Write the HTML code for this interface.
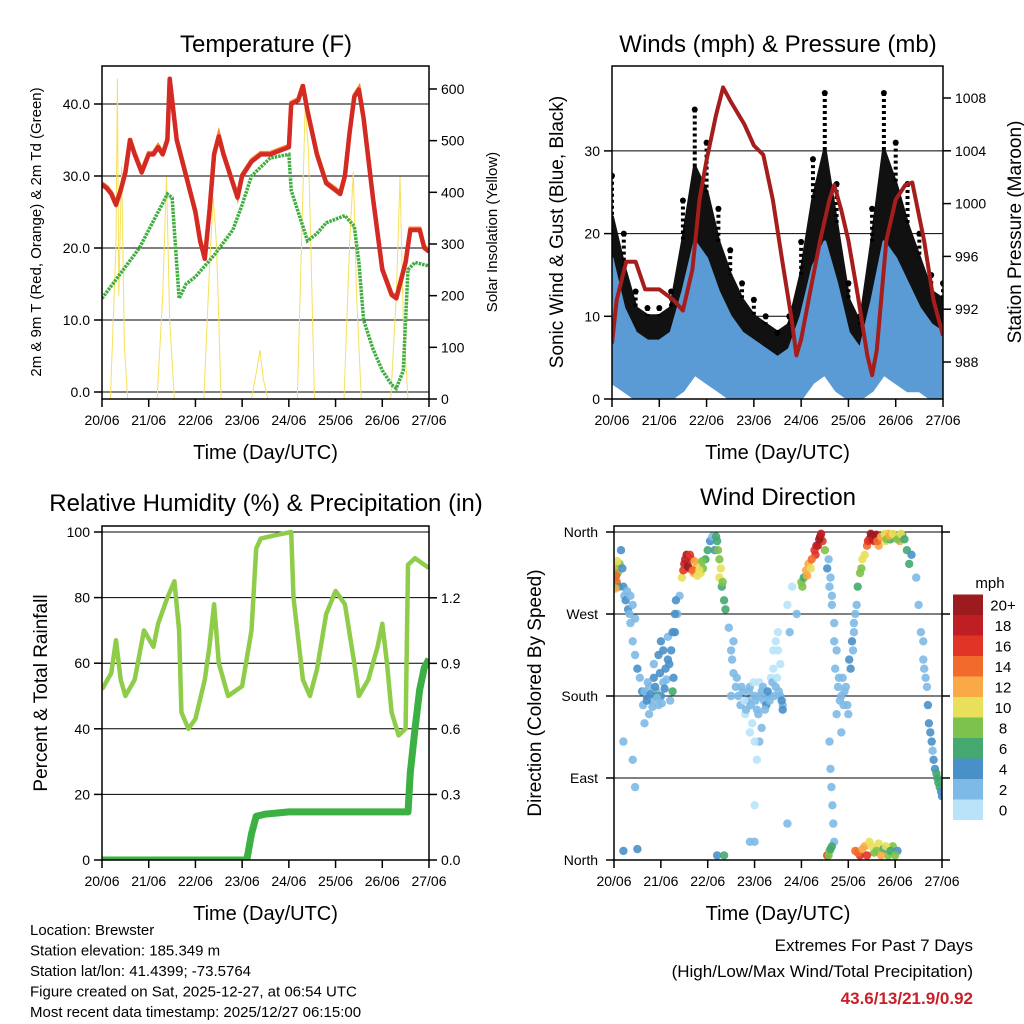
<!DOCTYPE html>
<html><head><meta charset="utf-8"><style>
html,body{margin:0;padding:0;background:#fff;}
svg{display:block;font-family:"Liberation Sans",sans-serif;}
</style></head><body>
<svg id="c" width="1024" height="1024" viewBox="0 0 1024 1024" xmlns="http://www.w3.org/2000/svg"></svg>
<script>
// ---- Temperature panel data ----
const tempDays=[0,0.1,0.2,0.3,0.4,0.5,0.6,0.7,0.85,1.0,1.1,1.2,1.3,1.4,1.45,1.6,1.8,2.0,2.1,2.2,2.3,2.4,2.5,2.6,2.8,2.9,3.0,3.2,3.4,3.6,3.8,4.0,4.05,4.2,4.3,4.4,4.6,4.8,5.0,5.1,5.2,5.3,5.4,5.5,5.6,5.8,6.0,6.2,6.3,6.5,6.6,6.8,6.9,7.0];
const tempF=[28.8,28.3,27.5,26,28,30.5,35,33,30.5,33,33,34,33,35,43.5,35,30,25,21,18.5,25,33,35.5,33,29,27,30,32,33,33,33.5,34,40,40.5,42.5,39,33,29,28,27.5,30,36,41,42,38,27,17,13.5,13,18,22.5,22.5,20,19.5];
const dewDays=[0,0.4,0.8,1.0,1.2,1.4,1.5,1.65,1.8,2.0,2.4,2.8,3.0,3.2,3.6,4.0,4.05,4.2,4.4,4.6,4.8,5.0,5.2,5.4,5.5,5.6,5.8,6.0,6.2,6.3,6.45,6.5,6.55,6.7,7.0];
const dewF=[13,16.5,20,22.5,25,27.5,27,13,15,16,19,22.5,26,30,32.5,33,28,25,21,22,23.5,24,24.5,23,18,10,6,3,1,0.5,3,10,17,18,17.5];
const solarDays=[0,0.18,0.3,0.33,0.36,0.42,0.48,0.55,1.18,1.3,1.38,1.45,1.55,2.18,2.3,2.38,2.45,2.55,3.2,3.32,3.38,3.45,3.55,4.18,4.3,4.35,4.42,4.55,5.18,5.3,5.38,5.45,5.55,6.18,6.3,6.38,6.45,6.55,7.0];
const solarW=[0,0,300,620,200,450,100,0,0,200,430,150,0,0,250,390,300,0,0,60,95,40,0,0,400,570,480,0,0,300,440,200,0,0,200,430,150,0,0];
const tempTicks=[0,10,20,30,40];
const solarTicks=[0,100,200,300,400,500,600];
const dayLabels=["20/06","21/06","22/06","23/06","24/06","25/06","26/06","27/06"];
// ---- Winds panel data ----
const pressDays=[0,0.1,0.3,0.5,0.7,1.0,1.3,1.5,1.7,1.85,2.0,2.2,2.35,2.5,2.8,3.0,3.2,3.4,3.6,3.8,3.9,4.0,4.2,4.4,4.6,4.7,4.85,5.0,5.2,5.4,5.5,5.6,5.8,6.0,6.2,6.35,6.6,6.8,7.0];
const pressMb=[989.4,992.7,995.6,995.6,993.5,993.5,992.7,991.9,995,1000.3,1003.3,1006.7,1008.8,1007.8,1006,1004.4,1003.7,1000.3,995.7,991.2,988.5,989.7,993.5,997.2,1000.3,1001.4,999.5,997.2,993,988.5,987,988.9,997.2,1000.3,1001.4,1001.6,997.2,992.7,990];
const windDays=[0,0.25,0.5,0.75,1,1.25,1.5,1.75,2,2.25,2.5,2.75,3,3.25,3.5,3.75,4,4.25,4.5,4.75,5,5.25,5.5,5.75,6,6.25,6.5,6.75,7];
const gustMax=[27,20,13,11,11,13,24,35,31,23,18,14,12,10,8,10,19,29,37,26,14,10,23,37,31,26,20,15,14];
const gustHi=[22,16,11,10,10,11,19,28,25,19,15,12,10,9,8,9,15,24,30,21,12,9,19,30,26,21,17,13,12];
const windHi=[17,11,8,7,7,8,13,19,17,13,10,8,7,6,5,6,10,16,19,14,8,6,12,19,17,14,11,9,8];
const windLo=[2,1,0,0,0,0,1,3,2,1,0,0,0,0,0,0,0,2,3,1,0,0,1,3,2,1,1,0,0];
const windTicks=[0,10,20,30];
const pressTicks=[988,992,996,1000,1004,1008];
// ---- RH / precip data ----
const rhDays=[0,0.2,0.3,0.4,0.5,0.7,0.9,1.1,1.2,1.4,1.55,1.65,1.7,1.85,2.0,2.2,2.3,2.4,2.5,2.7,3.0,3.2,3.3,3.4,3.7,4.05,4.1,4.3,4.45,4.6,4.8,5.0,5.2,5.4,5.5,5.7,5.9,6.0,6.1,6.2,6.35,6.5,6.55,6.7,7.0];
const rhPct=[52,57,67,55,50,55,70,65,72,80,85,70,45,40,43,55,65,78,60,50,53,70,95,98,99,100,80,55,50,58,75,82,78,60,50,55,65,72,60,45,38,40,90,92,89];
const rainDays=[0,3.1,3.2,3.3,3.5,4.0,6.55,6.6,6.7,6.8,6.9,7.0];
const rainIn=[0,0,0.12,0.2,0.21,0.22,0.22,0.4,0.6,0.78,0.88,0.92];
const rhTicks=[0,20,40,60,80,100];
const rainTicks=[0,0.3,0.6,0.9,1.2];
// ---- Wind direction data ----
const dirDay=[0,0.02,0.04,0.06,0.08,0.1,0.12,0.15,0.18,0.2,0.22,0.25,0.28,0.3,0.33,0.35,0.4,0.45,0.5,0.55,0.6,0.62,0.65,0.4,0.45,0.5,0.2,0.7,0.75,0.8,0.85,0.9,0.95,1.0,1.05,1.1,1.15,1.2,1.25,0.9,1.0,1.3,1.35,1.4,1.45,1.5,1.55,1.6,1.65,1.7,1.75,1.8,1.85,1.9,1.95,2.0,2.05,2.1,2.15,2.2,2.25,2.25,2.3,2.35,2.38,2.45,2.5,2.55,2.5,2.6,2.7,2.75,2.8,2.85,2.9,2.95,3.0,3.05,3.1,3.15,3.2,3.25,3.3,3.35,3.4,3.45,3.5,3.55,3.6,3.1,3.05,2.9,3.0,3.7,3.75,3.8,3.9,3.7,4.0,4.05,4.1,4.15,4.2,4.3,4.35,4.4,4.45,4.5,4.55,4.6,4.65,4.7,4.75,4.8,4.85,4.9,4.95,5.0,4.85,4.6,4.62,4.64,4.66,4.68,4.7,4.55,4.6,4.65,5.05,5.1,5.12,5.15,5.2,5.25,5.3,5.4,5.45,5.5,5.55,5.6,5.65,5.75,5.8,5.85,5.9,6.0,6.1,6.15,6.25,6.3,6.35,6.45,6.5,6.55,6.6,6.65,6.75,6.8,6.85,6.9,6.95,7.0,5.15,5.25,5.35,5.45,5.55,5.65,5.75,5.85,5.95,6.05,0.2,2.2,2.35,3.0,
0.65,0.7,0.72,0.78,0.82,0.88,0.92,0.98,1.02,1.08,1.12,1.18,1.22,1.27,0.85,0.95,1.05,1.15,1.25,0.75,1.3,1.32,0.35,0.4,0.45,
2.65,2.72,2.78,2.82,2.88,2.92,2.98,3.02,3.08,3.12,3.18,3.22,3.28,3.32,3.38,3.42,3.48,3.52,3.58,3.6,2.55,2.52,2.62,3.4,3.5,3.55,3.45,2.9,3.0,3.15,
4.72,4.78,4.82,4.88,4.92,4.98,4.75,4.7,4.65,4.62,4.58,5.02,5.08,5.12,5.18,
0.05,0.03,0.07,1.48,1.52,1.58,1.62,1.68,1.72,1.78,1.82,1.88,2.18,2.22,2.28,2.32,4.02,4.12,4.22,4.28,4.32,4.38,4.42,5.42,5.48,5.52,5.58,5.62,5.7,5.78,5.82,5.88,5.95,6.05,6.12,6.2,5.28,5.35,
6.7,6.72,6.78,6.82,6.88,6.92,6.98,6.6,6.62,6.68,
5.2,5.3,5.4,5.5,5.6,5.7,5.8,5.9,6.0,4.58,4.62];
const dirDeg=[318,310,322,305,315,300,325,340,320,300,290,285,295,275,270,260,240,225,210,200,185,170,150,110,80,12,130,180,190,175,200,185,170,180,195,210,220,175,185,180,240,250,270,290,310,325,335,320,330,315,320,325,315,320,330,340,350,355,340,350,330,310,300,285,275,255,230,205,180,190,170,185,160,175,190,150,180,165,195,185,175,170,180,200,210,190,230,180,170,130,110,20,60,280,250,300,270,40,305,310,318,325,320,335,345,355,350,340,320,300,280,260,230,200,180,170,190,160,140,130,100,80,60,40,20,5,10,15,210,230,250,270,300,315,330,345,352,355,350,357,345,355,350,358,352,355,350,357,340,325,335,310,280,250,220,200,140,120,100,90,80,70,10,5,15,20,8,18,12,5,15,10,10,5,5,20,
185,175,195,182,168,190,178,205,172,188,198,215,230,200,215,225,230,245,250,160,270,285,290,280,265,
180,190,175,165,185,170,195,175,160,180,190,165,185,175,195,180,200,185,175,165,240,220,200,230,250,215,240,140,130,145,
210,190,175,200,185,170,160,240,290,310,330,220,240,260,280,
312,298,328,318,330,322,335,318,328,312,318,328,355,340,320,305,300,312,330,340,345,352,358,350,358,352,356,350,355,358,352,356,358,352,358,352,320,335,
170,150,130,110,95,85,75,240,210,190,
8,12,5,15,10,5,15,10,5,5,12];
const dirSpd=[14,16,12,15,9,7,8,4,5,4,3,4,3,4,3,2,3,2,4,3,4,2,2,2,3,4,2,4,3,2,4,3,2,4,3,4,4,3,6,6,4,4,3,2,10,18,20,16,18,13,12,10,11,9,7,6,4,3,5,7,8,10,7,6,7,2,3,2,3,2,2,2,1,2,2,1,2,2,1,3,2,4,2,1,1,2,1,3,3,2,1,2,1,1,2,1,2,2,8,6,12,13,11,16,18,20,17,8,4,2,3,2,2,3,2,3,2,2,2,2,2,2,2,2,2,16,8,6,4,3,2,3,6,8,10,14,18,20,16,18,12,8,10,12,7,9,12,6,6,7,5,3,2,2,3,2,4,3,4,6,6,4,14,16,12,10,8,10,6,9,8,4,4,4,6,2,
3,4,2,4,3,4,2,4,3,4,3,4,4,4,3,4,4,3,4,2,4,4,2,3,2,
2,2,1,2,2,2,1,2,2,2,2,2,4,2,2,2,1,2,4,4,2,2,2,1,1,1,1,1,1,2,
2,2,2,3,2,2,2,2,2,3,3,4,4,3,3,
14,12,10,16,18,20,16,14,12,10,11,8,7,8,10,8,8,12,14,16,18,20,18,16,20,18,20,14,12,10,8,12,10,8,11,7,8,10,
4,4,4,5,6,6,4,3,3,2,
14,12,16,10,8,12,10,6,9,8,6];
const dirLabels=["North","East","South","West","North"];
const spdLabels=["0","2","4","6","8","10","12","14","16","18","20+"];
const spdColors=["#b9e3f8","#7ebae6","#4a90c8","#44a870","#7dc24a","#e8e05a","#f9a945","#f26a2c","#e03426","#bf1e24","#9b1b1e"];

const NS="http://www.w3.org/2000/svg";
const svg=document.getElementById('c');
function mk(tag,attrs,parent){const e=document.createElementNS(NS,tag);for(const k in attrs)e.setAttribute(k,attrs[k]);(parent||svg).appendChild(e);return e;}
function txt(s,x,y,size,anchor,parent,extra){const t=mk('text',Object.assign({x:x,y:y,'font-size':size,'text-anchor':anchor||'middle',fill:'#000'},extra||{}),parent);t.textContent=s;return t;}
function pathFrom(xs,ys,fx,fy){return xs.map((d,i)=>(i?'L':'M')+fx(d).toFixed(1)+' '+fy(ys[i]).toFixed(1)).join(' ');}
function band(xs,lo,hi,fx,fy){let p=xs.map((d,i)=>(i?'L':'M')+fx(d).toFixed(1)+' '+fy(hi[i]).toFixed(1)).join(' ');for(let i=xs.length-1;i>=0;i--)p+='L'+fx(xs[i]).toFixed(1)+' '+fy(lo[i]).toFixed(1);return p+'Z';}

function panel(id,x0,x1,y0,y1){
  const g=mk('g',{});
  
  
  const cp=mk('clipPath',{id:id+'-clip'},g);mk('rect',{x:x0,y:y0,width:x1-x0,height:y1-y0},cp);
  return g;
}
function frame(g,x0,x1,y0,y1){const r=mk('rect',{x:x0,y:y0,width:x1-x0,height:y1-y0,fill:'none',stroke:'#000','stroke-width':1.5},g);}
function xAxis(g,fx,y1){
  const ax=mk('g',{},g);
  dayLabels.forEach((l,i)=>{const x=fx(i);mk('line',{x1:x,x2:x,y1:y1,y2:y1+8,stroke:'#000','stroke-width':1.5},ax);const t=txt(l,x,y1+26,14,'middle',ax);});
  const t=txt('Time (Day/UTC)',(fx(0)+fx(7))/2,y1+60,20,'middle',ax);
}
function yAxis(g,ticks,fy,x,side,fmt,name,grid,x0,x1){
  const ax=mk('g',{},g);
  ticks.forEach(v=>{const y=fy(v);const d=side<0?-8:8;
    if(grid) mk('line',{x1:x0,x2:x1,y1:y,y2:y,stroke:'#000','stroke-width':1},ax);
    mk('line',{x1:x,x2:x+d,y1:y,y2:y,stroke:'#000','stroke-width':1.5},ax);
    const t=txt(fmt(v),x+(side<0?-12:12),y+5,14,side<0?'end':'start',ax);});
}
function vtitle(s,x,y,size,g,name){const t=txt(s,x,y,size,'middle',g,{transform:'rotate(-90 '+x+' '+y+')'});}

// ===== Panel 1: temperature =====
(function(){
  const x0=102,x1=429,y0=66,y1=399;
  const fx=d=>x0+d*(x1-x0)/7, fy=v=>392-v*7.2, fs=w=>399-w*0.5167;
  const g=panel('temperature-panel',x0,x1,y0,y1);
  yAxis(g,tempTicks,fy,x0,-1,v=>v.toFixed(1),'left-y-axis',true,x0,x1);
  yAxis(g,solarTicks,fs,x1,1,v=>String(v),'right-y-axis',false);
  const d=mk('g',{'clip-path':'url(#temperature-panel-clip)'},g);
  const s=mk('path',{d:pathFrom(solarDays,solarW,fx,fs),fill:'none',stroke:'#f7e05a','stroke-width':1},d);
  
  const dw=mk('path',{d:pathFrom(dewDays,dewF,fx,fy),fill:'none',stroke:'#3fae3f','stroke-width':3.5,'stroke-dasharray':'2.5 1'},d);
  
  const o=mk('path',{d:pathFrom(tempDays,tempF,fx,v=>fy(v)-1.5),fill:'none',stroke:'#f28a30','stroke-width':4},d);
  
  const r=mk('path',{d:pathFrom(tempDays,tempF,fx,fy),fill:'none',stroke:'#d42a24','stroke-width':4.5,'stroke-linejoin':'round'},d);
  
  frame(g,x0,x1,y0,y1);xAxis(g,fx,y1);
  const t=txt('Temperature (F)',266,52,24,'middle',g);
  vtitle('2m & 9m T (Red, Orange) & 2m Td (Green)',41,232,15,g,'left-y-axis-title');
  vtitle('Solar Insolation (Yellow)',497,232,15,g,'right-y-axis-title');
})();

// ===== Panel 2: winds =====
(function(){
  const x0=612,x1=943,y0=66,y1=399;
  const fx=d=>x0+d*(x1-x0)/7, fy=v=>399-v*8.27, fp=p=>362-(p-988)*13.2;
  const g=panel('winds-panel',x0,x1,y0,y1);
  yAxis(g,windTicks,fy,x0,-1,v=>String(v),'left-y-axis',true,x0,x1);
  yAxis(g,pressTicks,fp,x1,1,v=>String(v),'right-y-axis',false);
  const d=mk('g',{'clip-path':'url(#winds-panel-clip)'},g);
  const gb=mk('path',{d:band(windDays,windHi,gustHi,fx,fy),fill:'#111',stroke:'#111','stroke-width':4,'stroke-linejoin':'round'},d);
  
  windDays.forEach((w,i)=>{
    const c=mk('circle',{cx:fx(w),cy:fy(gustMax[i]),r:3,fill:'#000'},d);
    
    
    const l=mk('line',{x1:fx(w),x2:fx(w),y1:fy(gustMax[i]),y2:fy(gustHi[i]),stroke:'#000','stroke-width':4,'stroke-dasharray':'3 3'},d);
    
    });
  const wb=mk('path',{d:band(windDays,windLo,windHi,fx,fy),fill:'#5a9bd5',stroke:'#5a9bd5','stroke-width':3,'stroke-linejoin':'round'},d);
  
  const p=mk('path',{d:pathFrom(pressDays,pressMb,fx,fp),fill:'none',stroke:'#a51d1d','stroke-width':4,'stroke-linejoin':'round'},d);
  
  frame(g,x0,x1,y0,y1);xAxis(g,fx,y1);
  const t=txt('Winds (mph) & Pressure (mb)',778,52,24,'middle',g);
  vtitle('Sonic Wind & Gust (Blue, Black)',563,232,19,g,'left-y-axis-title');
  vtitle('Station Pressure (Maroon)',1021,232,19,g,'right-y-axis-title');
})();

// ===== Panel 3: RH & precip =====
(function(){
  const x0=102,x1=429,y0=526,y1=860;
  const fx=d=>x0+d*(x1-x0)/7, fy=v=>860-v*3.28, fr=r=>860-r*218.5;
  const g=panel('humidity-panel',x0,x1,y0,y1);
  yAxis(g,rhTicks,fy,x0,-1,v=>String(v),'left-y-axis',true,x0,x1);
  yAxis(g,rainTicks,fr,x1,1,v=>v.toFixed(1),'right-y-axis',false);
  const d=mk('g',{'clip-path':'url(#humidity-panel-clip)'},g);
  const h=mk('path',{d:pathFrom(rhDays,rhPct,fx,fy),fill:'none',stroke:'#8fcc4a','stroke-width':4.5,'stroke-linejoin':'round'},d);
  
  const r=mk('path',{d:pathFrom(rainDays,rainIn,fx,fr),fill:'none',stroke:'#3cb043','stroke-width':7,'stroke-linejoin':'round'},d);
  
  frame(g,x0,x1,y0,y1);xAxis(g,fx,y1);
  const t=txt('Relative Humidity (%) & Precipitation (in)',266,511,24,'middle',g);
  vtitle('Percent & Total Rainfall',47,693,19,g,'left-y-axis-title');
})();

// ===== Panel 4: wind direction =====
(function(){
  const x0=614,x1=942,y0=526,y1=860;
  const fx=d=>x0+d*(x1-x0)/7, fy=deg=>860-deg*328/360;
  const g=panel('wind-direction-panel',x0,x1,y0,y1);
  const ax=mk('g',{},g);
  dirLabels.forEach((l,i)=>{const y=fy(i*90);
    mk('line',{x1:x0,x2:x1,y1:y,y2:y,stroke:'#000','stroke-width':1},ax);
    mk('line',{x1:x0,x2:x0-8,y1:y,y2:y,stroke:'#000','stroke-width':1.5},ax);
    mk('line',{x1:x1,x2:x1+8,y1:y,y2:y,stroke:'#000','stroke-width':1.5},ax);
    const t=txt(l,x0-16,y+5,14,'end',ax);});
  const d=mk('g',{'clip-path':'url(#wind-direction-panel-clip)','fill-opacity':0.9},g);
  dirDay.forEach((day,i)=>{const idx=Math.min(10,Math.floor(dirSpd[i]/2));
    const c=mk('circle',{cx:fx(day).toFixed(1),cy:fy(dirDeg[i]).toFixed(1),r:4.2,fill:spdColors[idx]},d);
    
    });
  frame(g,x0,x1,y0,y1);xAxis(g,fx,y1);
  const t=txt('Wind Direction',778,505,24,'middle',g);
  vtitle('Direction (Colored By Speed)',541,693,19,g,'left-y-axis-title');
  const cb=mk('g',{},g);
  const ut=txt('mph',990,588,15,'middle',cb);
  spdColors.forEach((c,i)=>{const y=820-(i+1)*20.5;
    const r=mk('rect',{x:953,y:y,width:30,height:20.5,fill:c},cb);
    
    const t=txt(spdLabels[i],1003,y+16,15,'middle',cb);});
})();

// ===== Footer =====
(function(){
  const f=mk('g',{});
  ["Location: Brewster","Station elevation: 185.349 m","Station lat/lon: 41.4399; -73.5764","Figure created on Sat, 2025-12-27, at 06:54 UTC","Most recent data timestamp: 2025/12/27 06:15:00"].forEach((s,i)=>{txt(s,30,935+i*20.5,15,'start',f);});
  const e=mk('g',{});
  txt('Extremes For Past 7 Days',973,951,17,'end',e);
  txt('(High/Low/Max Wind/Total Precipitation)',973,977,17,'end',e);
  const v=txt('43.6/13/21.9/0.92',973,1004,17,'end',e,{fill:'#c8202a','font-weight':'bold'});
  
})();
</script>
</body></html>
